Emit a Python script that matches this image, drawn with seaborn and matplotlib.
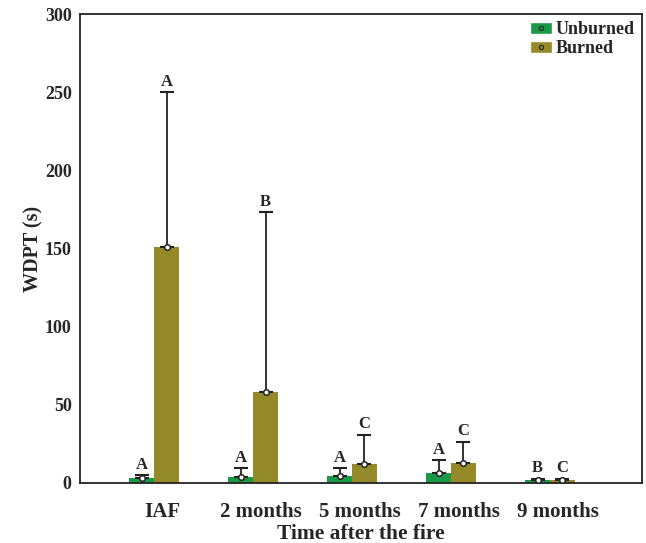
import matplotlib
matplotlib.use("Agg")
import matplotlib.pyplot as plt
import matplotlib.transforms as mtransforms
import seaborn as sns
import pandas as pd
from matplotlib.lines import Line2D
from matplotlib.patches import Patch

# WDPT data
times = ["IAF", "2 months", "5 months", "7 months", "9 months"]
unburned_mean = [3.4, 4.0, 4.3, 6.2, 2.0]
unburned_err = [1.6, 5.4, 5.1, 8.5, 0.8]
burned_mean = [151, 58.4, 12.3, 12.6, 2.0]
burned_err = [99, 115, 18.7, 13.8, 0.8]
unburned_letters = ["A", "A", "A", "A", "B"]
burned_letters = ["A", "B", "C", "C", "C"]

treatments = ["Unburned", "Burned"]
colors = ["#1a9a48", "#948a2a"]

df = pd.DataFrame({
    "Time": times * 2,
    "Treatment": ["Unburned"] * 5 + ["Burned"] * 5,
    "WDPT": unburned_mean + burned_mean,
    "err": unburned_err + burned_err,
    "letter": unburned_letters + burned_letters,
})

sns.set_style("white")
plt.rcParams["font.family"] = ["Liberation Serif", "DejaVu Serif"]
plt.rcParams["font.weight"] = "bold"

fig = plt.figure(figsize=(6.46, 5.43), dpi=100)
ax = fig.add_axes([0.1238, 0.1105, 0.87, 0.8635])

sns.barplot(data=df, x="Time", y="WDPT", hue="Treatment", order=times,
            hue_order=treatments, palette=colors, width=0.5, errorbar=None,
            saturation=1, linewidth=0, ax=ax, legend=False)

# error bars (upper only), markers and letters
for container, treat in zip(ax.containers, treatments):
    sub = df[df["Treatment"] == treat].set_index("Time").loc[times]
    for bar, (_, row) in zip(container, sub.iterrows()):
        xc = bar.get_x() + bar.get_width() / 2
        ax.errorbar(xc, row["WDPT"], yerr=[[0], [row["err"]]], fmt="none",
                    ecolor="#222222", elinewidth=1.3, capsize=5, capthick=1.5,
                    zorder=3)
        ax.plot(xc, row["WDPT"], marker="o", ms=4, mfc="white", mec="#222222",
                mew=1.1, zorder=4)
        ax.text(xc, row["WDPT"] + row["err"] + 1.5, row["letter"],
                ha="center", va="bottom", fontsize=12, fontweight="bold")

ax.set_xlim(-0.75, 4.93)
ax.set_ylim(0, 300)
ax.set_yticks([0, 50, 100, 150, 200, 250, 300])
ax.tick_params(axis="both", length=0)
ax.tick_params(axis="x", labelsize=15, pad=14)
ax.tick_params(axis="y", labelsize=13, pad=6)
# x tick labels sit a little right of the group centres in the original
shift = mtransforms.ScaledTranslation(8 / 100, 0, fig.dpi_scale_trans)
for lab in ax.get_xticklabels():
    lab.set_transform(lab.get_transform() + shift)
for lab in ax.get_xticklabels() + ax.get_yticklabels():
    lab.set_fontweight("bold")
ax.set_xlabel("Time after the fire", fontsize=15.5, fontweight="bold", labelpad=1)
ax.set_ylabel("WDPT (s)", fontsize=14.5, fontweight="bold", labelpad=1)
for sp in ax.spines.values():
    sp.set_visible(True)
    sp.set_color("#222222")
    sp.set_linewidth(1.3)

handles = [
    (Patch(facecolor=c), Line2D([], [], marker="o", ls="none", ms=3,
                                mfc="none", mec="#222222", mew=0.8))
    for c in colors
]
ax.legend(handles, treatments, loc="upper right", frameon=False,
          prop={"weight": "bold", "size": 13}, handlelength=1.2,
          handleheight=0.6, handletextpad=0.2, borderaxespad=0.0,
          labelspacing=0.1)

fig.savefig("out.png", dpi=100)
